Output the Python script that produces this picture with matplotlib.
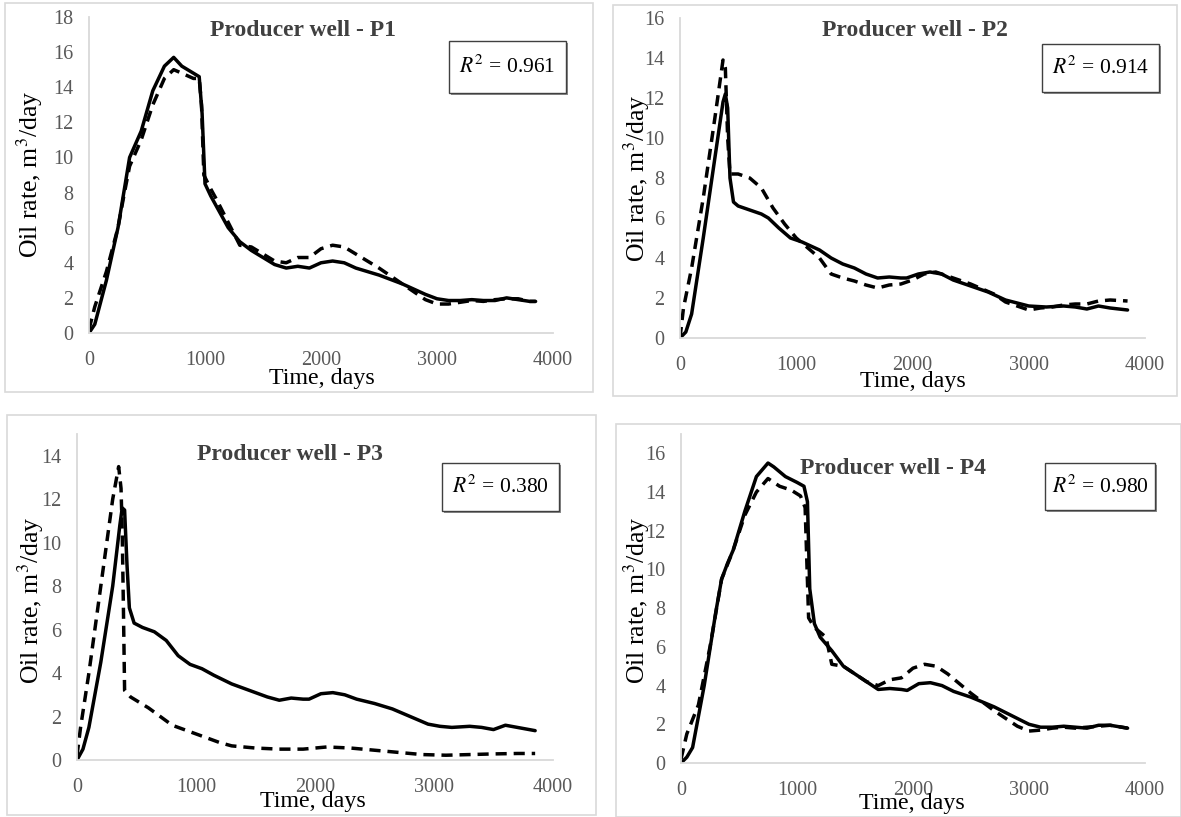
import numpy as np
import matplotlib
matplotlib.use('Agg')
import matplotlib.pyplot as plt
from matplotlib.patches import Rectangle

plt.rcParams['font.family'] = ['Liberation Serif', 'DejaVu Serif']
plt.rcParams['mathtext.fontset'] = 'stix'

W, H = 1181, 817

# ---- data (days, m3/day) ----
# P1
p1_sol_t = [0, 50, 150, 250, 300, 350, 450, 550, 650, 730, 800, 900, 950, 975, 1000, 1050, 1100, 1200, 1300,
            1400, 1500, 1600, 1700, 1800, 1900, 2000, 2100, 2200, 2300, 2500, 2700, 2900, 3000, 3100, 3200,
            3300, 3400, 3500, 3600, 3700, 3800, 3850]
p1_sol_q = [0, 0.5, 3, 6, 8, 10, 11.5, 13.8, 15.2, 15.7, 15.2, 14.8, 14.6, 12.5, 8.5, 7.8, 7.2, 6.0, 5.2,
            4.7, 4.3, 3.9, 3.7, 3.8, 3.7, 4.0, 4.1, 4.0, 3.7, 3.3, 2.8, 2.2, 1.95, 1.85, 1.85,
            1.9, 1.85, 1.85, 2.0, 1.9, 1.8, 1.8]
p1_das_t = [0, 50, 150, 250, 300, 350, 450, 550, 650, 730, 800, 900, 950, 970, 990, 1050, 1100, 1200, 1300,
            1400, 1500, 1600, 1700, 1800, 1900, 2000, 2100, 2200, 2300, 2500, 2700, 2900, 3000, 3100, 3200,
            3300, 3400, 3500, 3600, 3700, 3800, 3850]
p1_das_q = [0.2, 1.5, 3.5, 6, 7.8, 9.5, 11, 13, 14.5, 15.0, 14.8, 14.5, 14.5, 13, 9, 8.2, 7.6, 6.3, 5.0,
            4.9, 4.5, 4.1, 4.0, 4.3, 4.3, 4.8, 5.0, 4.9, 4.5, 3.7, 2.8, 1.9, 1.65, 1.65, 1.75,
            1.85, 1.8, 1.9, 1.95, 1.95, 1.8, 1.8]

# P2
p2_sol_t = [0, 50, 100, 200, 300, 370, 390, 410, 430, 460, 500, 600, 700, 760, 850, 950, 1050, 1200, 1300,
            1400, 1500, 1600, 1700, 1800, 1900, 1950, 2050, 2150, 2250, 2350, 2500, 2650, 2800, 3000, 3150,
            3300, 3400, 3500, 3600, 3700, 3850]
p2_sol_q = [0, 0.3, 1.2, 5, 9, 11.8, 12.2, 11.5, 8, 6.8, 6.6, 6.4, 6.2, 6.0, 5.5, 5.0, 4.8, 4.4, 4.0,
            3.7, 3.5, 3.2, 3.0, 3.05, 3.0, 3.0, 3.2, 3.3, 3.2, 2.9, 2.6, 2.3, 1.9, 1.6, 1.55,
            1.6, 1.55, 1.45, 1.6, 1.5, 1.4]
p2_das_t = [0, 30, 100, 200, 300, 370, 390, 410, 430, 500, 600, 700, 800, 900, 1000, 1100, 1200, 1300,
            1400, 1500, 1600, 1700, 1800, 1900, 2000, 2100, 2200, 2300, 2400, 2500, 2700, 2800, 2900,
            3000, 3100, 3200, 3300, 3400, 3500, 3600, 3700, 3850]
p2_das_q = [0, 1.5, 3.5, 7, 11, 13.9, 13.5, 10, 8.2, 8.2, 8.0, 7.5, 6.5, 5.7, 5.0, 4.5, 4.0, 3.2,
            3.0, 2.85, 2.65, 2.5, 2.65, 2.7, 2.9, 3.2, 3.3, 3.1, 2.9, 2.7, 2.2, 1.8, 1.6,
            1.4, 1.5, 1.55, 1.65, 1.7, 1.7, 1.85, 1.9, 1.85]

# P3
p3_sol_t = [0, 50, 100, 200, 300, 360, 380, 400, 420, 440, 480, 550, 650, 750, 850, 950, 1050, 1150, 1300,
            1400, 1500, 1600, 1700, 1800, 1900, 1950, 2050, 2150, 2250, 2350, 2500, 2650, 2800, 2950,
            3050, 3150, 3300, 3400, 3500, 3600, 3700, 3850]
p3_sol_q = [0, 0.5, 1.5, 4.5, 8, 10.8, 11.6, 11.5, 9, 7, 6.3, 6.1, 5.9, 5.5, 4.8, 4.4, 4.2, 3.9, 3.5,
            3.3, 3.1, 2.9, 2.75, 2.85, 2.8, 2.8, 3.05, 3.1, 3.0, 2.8, 2.6, 2.35, 2.0, 1.65,
            1.55, 1.5, 1.55, 1.5, 1.4, 1.6, 1.5, 1.35]
p3_das_t = [0, 30, 100, 200, 300, 350, 370, 380, 390, 400, 450, 600, 800, 1000, 1200, 1300, 1500, 1700,
            1900, 2100, 2300, 2500, 2700, 2900, 3100, 3300, 3500, 3700, 3850]
p3_das_q = [0.2, 1.5, 4, 8, 12, 13.5, 12.5, 10.5, 7, 3.2, 2.9, 2.4, 1.6, 1.2, 0.8, 0.65, 0.55, 0.5,
            0.5, 0.6, 0.55, 0.45, 0.35, 0.25, 0.22, 0.25, 0.28, 0.3, 0.3]

# P4
p4_sol_t = [0, 50, 100, 200, 300, 350, 400, 450, 550, 650, 750, 800, 900, 1000, 1060, 1090, 1110, 1150,
            1200, 1300, 1400, 1500, 1600, 1700, 1800, 1900, 1950, 2050, 2150, 2250, 2350, 2500, 2700,
            2900, 3000, 3100, 3200, 3300, 3400, 3500, 3600, 3700, 3850]
p4_sol_q = [0, 0.3, 0.8, 4, 7.8, 9.5, 10.3, 11, 13, 14.8, 15.5, 15.3, 14.8, 14.5, 14.3, 13.5, 9, 7.2,
            6.5, 5.8, 5.0, 4.6, 4.2, 3.8, 3.85, 3.8, 3.75, 4.1, 4.15, 4.0, 3.7, 3.4, 2.9,
            2.3, 2.0, 1.85, 1.85, 1.9, 1.85, 1.8, 1.95, 1.95, 1.8]
p4_das_t = [0, 50, 150, 250, 350, 450, 550, 650, 750, 850, 950, 1030, 1070, 1100, 1150, 1250, 1300, 1400,
            1500, 1600, 1700, 1800, 1900, 2000, 2100, 2200, 2300, 2500, 2700, 2900, 3000, 3100, 3200,
            3300, 3400, 3500, 3700, 3850]
p4_das_q = [0.2, 1.5, 3, 6, 9.5, 11, 12.8, 14.0, 14.7, 14.3, 14.1, 13.8, 13.2, 7.5, 7.0, 6.5, 5.1, 5.0,
            4.6, 4.2, 4.0, 4.3, 4.4, 4.9, 5.1, 5.0, 4.6, 3.6, 2.7, 1.9, 1.65, 1.7, 1.8,
            1.85, 1.8, 1.85, 1.95, 1.8]

titles = ['Producer well - P1', 'Producer well - P2', 'Producer well - P3', 'Producer well - P4']
r2_vals = [0.961, 0.914, 0.380, 0.980]
y_max = [18, 16, 15, 17]
y_tick_max = [18, 16, 14, 16]

series = [
    (p1_sol_t, p1_sol_q, p1_das_t, p1_das_q),
    (p2_sol_t, p2_sol_q, p2_das_t, p2_das_q),
    (p3_sol_t, p3_sol_q, p3_das_t, p3_das_q),
    (p4_sol_t, p4_sol_q, p4_das_t, p4_das_q),
]

# layout in pixels: axes (left, right, top, bottom), frame, title, labels, r2 box
ax_px = [(89, 553, 17, 333), (680, 1145, 18, 338), (77, 553, 434, 760), (681, 1145, 434, 763)]
frame_px = [(5, 3, 593, 392), (613, 5, 1177, 396), (7, 415, 596, 815), (616, 424, 1181, 817)]
title_px = [(303, 31), (915, 30), (290, 454), (893, 469)]
xlab_px = [(322, 378), (913, 381), (313, 801), (912, 804)]
ylab_px = [(30, 174), (637, 178), (31, 600), (637, 600)]
box_px = [(449, 41, 566, 93), (1042, 44, 1159, 92), (442, 463, 559, 511), (1045, 463, 1155, 510)]

fig = plt.figure(figsize=(W / 100, H / 100), dpi=100)
fig.patch.set_facecolor('white')

def fx(x):
    return x / W

def fy(y):
    return 1 - y / H

for i in range(4):
    # chart frame
    x0, y0, x1, y1 = frame_px[i]
    fig.patches.append(Rectangle((fx(x0), fy(y1)), fx(x1 - x0), (y1 - y0) / H,
                                 transform=fig.transFigure, fill=False,
                                 edgecolor='#d9d9d9', linewidth=1.2, zorder=0))

    l, r, t, b = ax_px[i]
    ax = fig.add_axes([fx(l), fy(b), fx(r - l), (b - t) / H])
    st, sq, dt, dq = series[i]
    ax.plot(st, sq, color='black', linewidth=2.5, solid_joinstyle='round', solid_capstyle='round')
    ax.plot(dt, dq, color='black', linewidth=2.5, linestyle=(0, (3.2, 2.0)))

    ax.set_xlim(0, 4000)
    ax.set_ylim(0, y_max[i])
    ax.set_xticks([0, 1000, 2000, 3000, 4000])
    ax.set_yticks(np.arange(0, y_tick_max[i] + 1, 2))
    ax.tick_params(length=0, labelsize=14.5, labelcolor='#595959')
    ax.tick_params(axis='x', pad=13)
    ax.tick_params(axis='y', pad=11)
    for s in ['top', 'right']:
        ax.spines[s].set_visible(False)
    for s in ['left', 'bottom']:
        ax.spines[s].set_color('#d9d9d9')
        ax.spines[s].set_linewidth(1.3)
    ax.patch.set_alpha(0)

    fig.text(fx(title_px[i][0]), fy(title_px[i][1]), titles[i], ha='center', va='center',
             fontsize=17, fontweight='bold', color='#404040')
    fig.text(fx(xlab_px[i][0]), fy(xlab_px[i][1]), 'Time, days', ha='center', va='center',
             fontsize=17.3, color='black')
    fig.text(fx(ylab_px[i][0]), fy(ylab_px[i][1]), 'Oil rate, m$^3$/day', ha='center', va='center',
             rotation=90, fontsize=18.5, color='black')

    # R^2 box with a small shadow
    bx0, by0, bx1, by1 = box_px[i]
    fig.patches.append(Rectangle((fx(bx0 + 2), fy(by1 + 2)), fx(bx1 - bx0), (by1 - by0) / H,
                                 transform=fig.transFigure, facecolor='#8c8c8c',
                                 edgecolor='none', zorder=3))
    fig.patches.append(Rectangle((fx(bx0), fy(by1)), fx(bx1 - bx0), (by1 - by0) / H,
                                 transform=fig.transFigure, facecolor='white',
                                 edgecolor='#404040', linewidth=1.0, zorder=4))
    fig.text(fx((bx0 + bx1) / 2), fy((by0 + by1) / 2), '$R^2$ = %.3f' % r2_vals[i],
             ha='center', va='center', fontsize=15.5, color='black', zorder=5)

fig.savefig('out.png', dpi=100)
